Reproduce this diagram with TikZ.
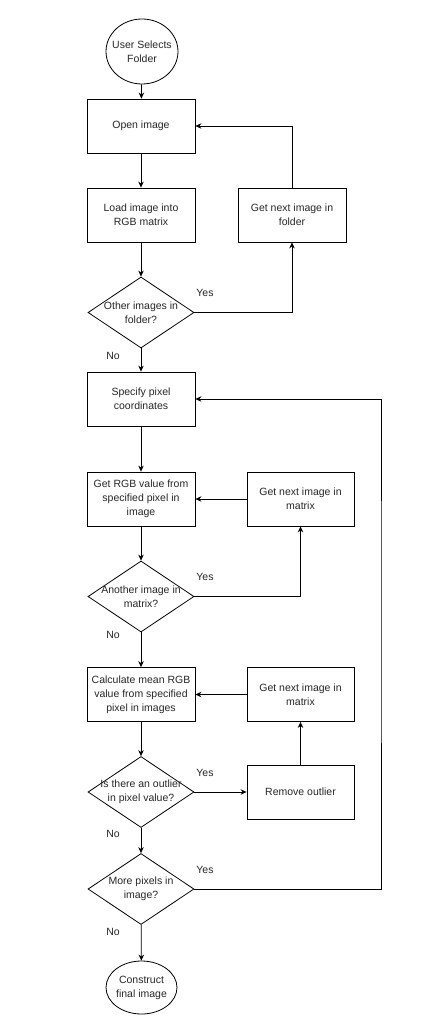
\documentclass[tikz,border=0pt]{standalone}
\usepackage{fontspec}
\setmainfont{Liberation Sans}
\usetikzlibrary{shapes.geometric,arrows.meta}
\pgfdeclarelayer{bg}
\pgfsetlayers{bg,main}

\tikzset{
  box/.style={draw, line width=0.8pt, minimum width=108pt, minimum height=54pt, align=center, inner sep=1pt},
  decide/.style={draw, diamond, line width=0.8pt, minimum width=106pt, minimum height=71pt, inner sep=0pt},
  term/.style={draw, ellipse, line width=0.8pt, inner sep=0pt},
  arr/.style={line width=0.8pt, -{Stealth[length=6pt,width=5.5pt]}},
  ln/.style={line width=0.8pt}
}

\begin{document}
\begin{tikzpicture}[x=1pt, y=-1pt, font=\fontsize{10.5}{14}\selectfont, text=black!85]
        \useasboundingbox (0,0) rectangle (441,1024);
        \node (s) [term, minimum width=72pt, minimum height=65pt,
                label={[align=center]center:User Selects\\Folder}] at (142, 51.5) {};
        \node (open) [box] at (141, 126) {Open image};
        \node (load) [box] at (141, 215) {Load image into\\RGB matrix};
        \node (nf) [box] at (292, 215) {Get next image in\\folder};
        \node (q1) [decide, label={[align=center]center:Other images in\\folder?}] at (141, 312.5) {};
        \node (spec) [box] at (141, 399) {Specify pixel\\coordinates};
        \node (rgb) [box] at (141, 499) {Get RGB value from\\specified pixel in\\image};
        \node (nm1) [box, minimum width=107pt] at (300.5, 499) {Get next image in\\matrix};
        \node (q2) [decide, label={[align=center]center:Another image in\\matrix?}] at (141, 596.5) {};
        \node (calc) [box] at (141, 694.5) {Calculate mean RGB\\value from specified\\pixel in images};
        \node (nm2) [box, minimum width=107pt] at (300.5, 694.5) {Get next image in\\matrix};
        \node (q3) [decide, label={[align=center]center:Is there an outlier\\in pixel value?}] at (141, 792) {};
        \node (rm) [box, minimum width=107pt] at (300.5, 792) {Remove outlier};
        \node (q4) [decide, label={[align=center]center:More pixels in\\image?}] at (141, 889) {};
        \node (e) [term, minimum width=71pt, minimum height=53pt,
                label={[align=center]center:Construct\\final image}] at (141.5, 987.5) {};
        \node (y1) at (205, 293) {Yes};
        \node (y2) at (205, 577) {Yes};
        \node (y3) at (205, 773) {Yes};
        \node (y4) at (205, 870) {Yes};
        \node (n1) at (113, 356) {No};
        \node (n2) at (113, 635) {No};
        \node (n3) at (113, 834) {No};
        \node (n4) at (113, 932) {No};
        \coordinate (back) at (381, 600);
        \begin{pgfonlayer}{bg}
                \draw (s) edge [arr] (open);
                \draw (open) edge [arr] (load);
                \draw (load) edge [arr] (q1);
                \draw (q1) edge [arr] (spec);
                \draw (spec) edge [arr] (rgb);
                \draw (rgb) edge [arr] (q2);
                \draw (q2) edge [arr] (calc);
                \draw (calc) edge [arr] (q3);
                \draw (q3) edge [arr] (q4);
                \draw (q4) edge [arr] (e);
                \draw [arr] (q1.east) -| (nf.south);
                \draw [arr] (nf.north) |- (open.east);
                \draw [arr] (q2.east) -| (nm1.south);
                \draw (nm1.west) edge [arr] (rgb.east);
                \draw (q3.east) edge [arr] (rm.west);
                \draw (rm.north) edge [arr] (nm2.south);
                \draw (nm2.west) edge [arr] (calc.east);
                \draw [arr] (q4.east) -| (back) |- (spec.east);
        \end{pgfonlayer}
\end{tikzpicture}
\end{document}
